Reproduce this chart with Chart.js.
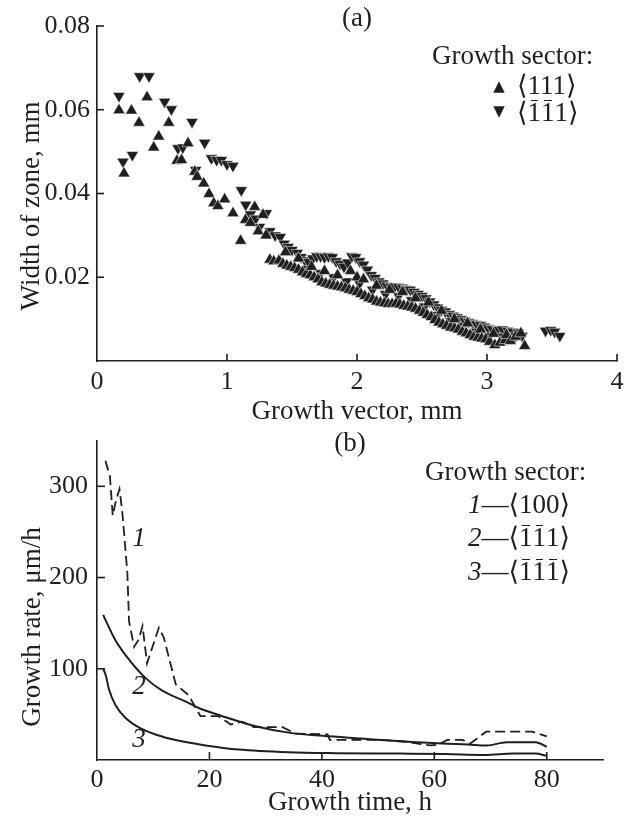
<!DOCTYPE html>
<html><head><meta charset="utf-8">
<script src="https://cdn.jsdelivr.net/npm/chart.js@4.4.1/dist/chart.umd.min.js"></script>
<style>
html,body{margin:0;padding:0;background:#fff;}
body{width:631px;height:823px;position:relative;overflow:hidden;font-family:"Liberation Serif","DejaVu Serif",serif;color:#1f1f1f;}
canvas{position:absolute;left:0;}
#ca{top:0;}
#cb{top:420px;}
.t{position:absolute;white-space:nowrap;font-size:27px;line-height:30px;}
.c{transform:translateX(-50%);}
.rot{transform:translate(-50%,-50%) rotate(-90deg);line-height:30px;}
.ob{position:relative;display:inline-block;}
.ob::before{content:'';position:absolute;left:3px;right:3px;top:3px;border-top:1.6px solid #1f1f1f;}
.mk{position:absolute;font-family:"DejaVu Sans",sans-serif;font-size:15px;line-height:16px;transform:translate(-50%,-50%);}
i{font-style:italic;}
</style></head>
<body>
<canvas id="ca" width="631" height="440"></canvas>
<canvas id="cb" width="631" height="403"></canvas>

<div class="t c" style="left:357px;top:2px;">(a)</div>
<div class="t" style="left:432px;top:40px;">Growth sector:</div>
<div class="mk" style="left:499px;top:86px;">▲</div>
<div class="t" style="left:517px;top:70px;">⟨111⟩</div>
<div class="mk" style="left:499px;top:111px;">▼</div>
<div class="t" style="left:517px;top:97px;">⟨<span class="ob">1</span><span class="ob">1</span>1⟩</div>
<div class="t rot" style="left:30px;top:206px;">Width of zone, mm</div>

<div class="t c" style="left:350px;top:427px;">(b)</div>
<div class="t" style="left:425px;top:456px;">Growth sector:</div>
<div class="t" style="left:468px;top:489px;"><i>1</i>—⟨100⟩</div>
<div class="t" style="left:468px;top:522px;"><i>2</i>—⟨<span class="ob">1</span><span class="ob">1</span>1⟩</div>
<div class="t" style="left:468px;top:556px;"><i>3</i>—⟨<span class="ob">1</span><span class="ob">1</span><span class="ob">1</span>⟩</div>
<div class="t c" style="left:139px;top:522px;"><i>1</i></div>
<div class="t c" style="left:139px;top:670px;"><i>2</i></div>
<div class="t c" style="left:139px;top:723px;"><i>3</i></div>
<div class="t rot" style="left:31px;top:627px;">Growth rate, μm/h</div>

<script>
const INK = '#1f1f1f';
const SERIF = '"Liberation Serif","Times New Roman",serif';

// ---------- panel (a): width of zone vs growth vector ----------
const upX = [0.169,0.208,0.265,0.323,0.385,0.436,0.475,0.552,0.615,0.650,0.700,0.752,0.770,0.821,0.862,0.898,0.930,0.982,1.046,1.105,1.142,1.180,1.213,1.240,1.277,1.300,
  1.33,1.36,1.40,1.43,1.45,1.46,1.49,1.52,1.55,1.55,1.58,1.61,1.64,1.65,1.67,1.70,1.73,1.75,1.76,1.79,1.82,1.85,1.85,1.88,1.91,1.94,1.95,1.97,2.00,2.00,2.03,2.05,2.06,2.09,2.12,2.15,2.15,2.18,2.21,2.24,2.25,2.27,2.30,2.33,2.35,2.36,2.39,2.42,2.45,2.45,2.48,2.51,2.54,2.55,2.57,2.60,2.63,2.65,2.66,2.69,2.72,2.75,2.75,2.78,2.81,2.84,2.85,2.87,2.90,2.93,2.95,2.96,2.99,3.02,3.05,3.06,3.10,3.14,3.15,3.18,3.22,3.26,3.29];
const upY = [0.0599,0.0448,0.0598,0.0569,0.0630,0.0510,0.0536,0.0569,0.0478,0.0480,0.0520,0.0452,0.0440,0.0424,0.0399,0.0377,0.0370,0.0386,0.0353,0.0287,0.0337,0.0330,0.0368,0.0310,0.0349,0.0300,
  0.0242,0.0238,0.0240,0.0232,0.0260,0.0228,0.0225,0.0222,0.0218,0.0245,0.0212,0.0208,0.0205,0.0225,0.0200,0.0195,0.0188,0.0215,0.0185,0.0182,0.0180,0.0178,0.0205,0.0176,0.0174,0.0170,0.0215,0.0168,0.0165,0.0200,0.0160,0.0195,0.0155,0.0150,0.0147,0.0142,0.0180,0.0140,0.0138,0.0136,0.0170,0.0136,0.0137,0.0135,0.0165,0.0132,0.0130,0.0128,0.0125,0.0150,0.0120,0.0115,0.0110,0.0140,0.0105,0.0098,0.0092,0.0120,0.0088,0.0084,0.0080,0.0078,0.0100,0.0075,0.0070,0.0066,0.0090,0.0062,0.0058,0.0056,0.0075,0.0054,0.0052,0.0046,0.0065,0.0038,0.0044,0.0050,0.0062,0.0048,0.0058,0.0066,0.0036];
const downX = [0.169,0.200,0.272,0.328,0.400,0.520,0.572,0.623,0.660,0.731,0.759,0.828,0.880,0.920,0.957,1.000,1.046,1.110,1.144,1.180,1.220,1.250,1.303,1.330,
  1.37,1.41,1.44,1.47,1.50,1.54,1.57,1.60,1.62,1.63,1.66,1.69,1.72,1.72,1.75,1.78,1.81,1.82,1.84,1.87,1.90,1.92,1.93,1.96,1.99,2.02,2.02,2.05,2.08,2.11,2.12,2.14,2.17,2.20,2.22,2.23,2.26,2.29,2.32,2.32,2.35,2.38,2.41,2.42,2.44,2.47,2.50,2.52,2.53,2.56,2.59,2.62,2.62,2.65,2.68,2.71,2.72,2.74,2.77,2.80,2.82,2.83,2.86,2.89,2.92,2.92,2.95,2.98,3.01,3.02,3.04,3.08,3.12,3.12,3.16,3.20,3.22,3.24,3.27,3.45,3.49,3.52,3.56];
const downY = [0.0633,0.0476,0.0492,0.0680,0.0680,0.0619,0.0601,0.0508,0.0510,0.0571,0.0456,0.0521,0.0484,0.0480,0.0480,0.0470,0.0466,0.0408,0.0373,0.0350,0.0340,0.0320,0.0353,0.0310,
  0.0300,0.0296,0.0280,0.0272,0.0265,0.0258,0.0248,0.0240,0.0220,0.0236,0.0245,0.0250,0.0250,0.0210,0.0248,0.0250,0.0248,0.0200,0.0238,0.0232,0.0225,0.0190,0.0235,0.0250,0.0248,0.0238,0.0185,0.0230,0.0218,0.0205,0.0170,0.0198,0.0190,0.0185,0.0160,0.0180,0.0178,0.0178,0.0177,0.0155,0.0175,0.0172,0.0170,0.0145,0.0165,0.0160,0.0155,0.0130,0.0150,0.0142,0.0135,0.0128,0.0110,0.0122,0.0118,0.0112,0.0095,0.0108,0.0104,0.0100,0.0085,0.0096,0.0093,0.0090,0.0088,0.0070,0.0086,0.0082,0.0078,0.0060,0.0076,0.0074,0.0075,0.0058,0.0072,0.0070,0.0060,0.0068,0.0060,0.0072,0.0074,0.0070,0.0060];
const xTicksA = [0,1,2,3,4];
const yTicksA = [0.02,0.04,0.06,0.08];

// ---------- panel (b): growth rate vs growth time ----------
const t1 = [1.5,2.3,2.8,3.4,4.0,4.5,5.4,5.7,6.6,7.4,8.1,8.9,11.0,11.9,14.0,16.3,18.4,21.6,23.8,25.8,27.9,33.0,35.3,41.0,41.4,50.7,55.0,59.3,60.8,62.3,65.0,66.4,69.2,77.4,80.0];
const r1 = [328,311,268,285,297,272,205,152,124,132,147,106,145,134,83,71,48,48,39,42,36,36,29,28,22,22,20,16,17,22,22,18,31,31,26];
const t2 = [1.1,2.0,3.3,5.7,8.6,11.6,15.8,18.1,22.3,28.2,34.1,40.1,47.0,54.0,61.4,66.0,69.3,72.9,78.0,80.0];
const r2 = [159,147,131,110,90,76,64,57,48,37,30,26.5,23.5,20.5,18,17,16,19.4,19.4,14.5];
const t3 = [1.1,1.6,2.1,3.3,5.1,7.5,10.4,14.6,19.3,25.2,34.1,42.4,54.0,62.0,69.0,74.0,78.0,80.0];
const r3 = [100,92,78,60,46,35.5,28,21,16,11.5,8.5,7.5,7,6.5,5.5,7,7,4.5];
const xTicksB = [0,20,40,60,80];
const yTicksB = [100,200,300];

const pts = (xs, ys) => xs.map((x, i) => ({x: x, y: ys[i]}));

const inTicks = {
  id: 'inTicks',
  afterDraw(chart, args, opts) {
    const ctx = chart.ctx, ca = chart.chartArea;
    const xs = chart.scales.x, ys = chart.scales.y;
    ctx.save();
    ctx.strokeStyle = INK; ctx.lineWidth = 1.6;
    xs.ticks.forEach(t => {
      if (t.value === xs.min) return;
      const p = xs.getPixelForValue(t.value);
      ctx.beginPath(); ctx.moveTo(p, ca.bottom); ctx.lineTo(p, ca.bottom - opts.len); ctx.stroke();
    });
    ys.ticks.forEach(t => {
      if (t.value === ys.min) return;
      const p = ys.getPixelForValue(t.value);
      ctx.beginPath(); ctx.moveTo(ca.left, p); ctx.lineTo(ca.left + opts.len, p); ctx.stroke();
    });
    ctx.restore();
  }
};

function xAxis(min, max, ticks, title, h, pad, titlePad) {
  return {
    type: 'linear', min: min, max: max,
    afterBuildTicks: s => { s.ticks = ticks.map(v => ({value: v})); },
    afterFit: s => { s.height = h; },
    grid: {display: false, drawTicks: false},
    border: {display: true, color: INK, width: 1.6},
    ticks: {font: {family: SERIF, size: 26}, color: INK, padding: pad, maxRotation: 0, autoSkip: false, callback: v => String(v)},
    title: {display: true, text: title, font: {family: SERIF, size: 27}, color: INK, padding: {top: 0, bottom: titlePad}}
  };
}
function yAxis(min, max, ticks, pad, fmt) {
  return {
    type: 'linear', min: min, max: max,
    afterBuildTicks: s => { s.ticks = ticks.map(v => ({value: v})); },
    afterFit: s => { s.width = 97; },
    grid: {display: false, drawTicks: false},
    border: {display: true, color: INK, width: 1.6},
    ticks: {font: {family: SERIF, size: 26, lineHeight: 0.9}, color: INK, padding: pad, autoSkip: false, callback: fmt}
  };
}

new Chart(document.getElementById('ca'), {
  type: 'scatter',
  data: {datasets: [
    {label: '⟨111⟩', data: pts(upX, upY), showLine: false, pointStyle: 'triangle', pointRotation: 0, pointRadius: 7,
     pointBackgroundColor: INK, pointBorderColor: 'rgba(255,255,255,0.75)', pointBorderWidth: 0.7},
    {label: '⟨1̄1̄1⟩', data: pts(downX, downY), showLine: false, pointStyle: 'triangle', pointRotation: 180, pointRadius: 7,
     pointBackgroundColor: INK, pointBorderColor: 'rgba(255,255,255,0.75)', pointBorderWidth: 0.7}
  ]},
  options: {
    responsive: false, animation: false, devicePixelRatio: 1,
    layout: {padding: {top: 26, right: 14, bottom: 0, left: 0}},
    plugins: {legend: {display: false}, tooltip: {enabled: false}, inTicks: {len: 7}},
    scales: {
      x: xAxis(0, 4, xTicksA, 'Growth vector, mm', 79, 6, 12),
      y: yAxis(0, 0.08, yTicksA, 7, v => v.toFixed(2))
    }
  },
  plugins: [inTicks]
});

new Chart(document.getElementById('cb'), {
  type: 'line',
  data: {datasets: [
    {label: '1', data: pts(t1, r1), borderColor: INK, borderWidth: 1.8, borderDash: [10, 5], pointRadius: 0, tension: 0, fill: false},
    {label: '2', data: pts(t2, r2), borderColor: INK, borderWidth: 2, pointRadius: 0, cubicInterpolationMode: 'monotone', fill: false},
    {label: '3', data: pts(t3, r3), borderColor: INK, borderWidth: 2, pointRadius: 0, cubicInterpolationMode: 'monotone', fill: false}
  ]},
  options: {
    responsive: false, animation: false, devicePixelRatio: 1,
    layout: {padding: {top: 12, right: 28, bottom: 0, left: 0}},
    plugins: {legend: {display: false}, tooltip: {enabled: false}, inTicks: {len: 8}},
    scales: {
      x: xAxis(0, 90, xTicksB, 'Growth time, h', 63, 5, 4),
      y: yAxis(0, 350, yTicksB, 9, v => String(v))
    }
  },
  plugins: [inTicks]
});
</script>
</body></html>
